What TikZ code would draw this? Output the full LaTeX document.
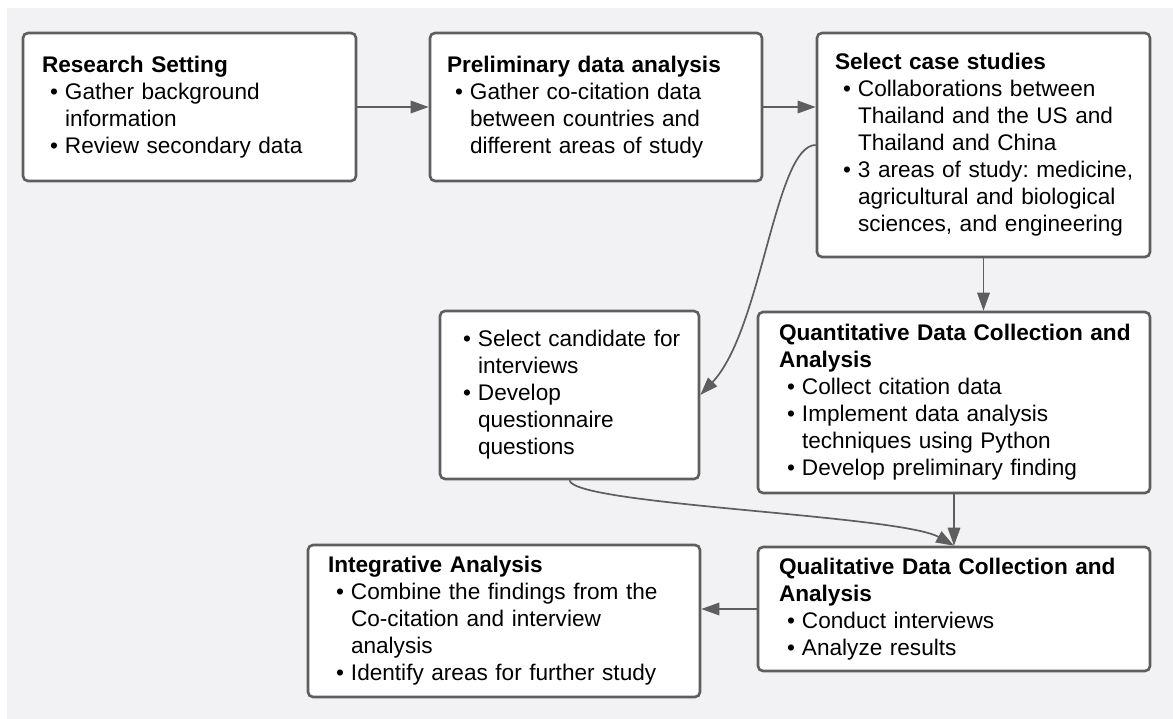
\documentclass[tikz,border=0pt]{standalone}
\usepackage{fontspec}
\setmainfont{Liberation Sans}
\usetikzlibrary{arrows.meta}
\definecolor{bgc}{HTML}{F2F2F4}
\definecolor{lnc}{HTML}{5E5E5E}
\frenchspacing
\newcommand{\mytitle}[1]{\mbox{\bfseries #1}}
\newcommand{\myitem}[1]{\makebox[23pt][l]{\hspace{8pt}•}\mbox{#1}}
\newcommand{\mycont}[1]{\hspace*{23pt}\mbox{#1}}
\tikzset{
  box/.style={draw=lnc, line width=2.6pt, rounded corners=5pt, fill=white,
    align=left, inner ysep=0pt, text=black,
    font=\fontsize{22.6pt}{27pt}\selectfont\frenchspacing},
  conn/.style={draw=lnc, line width=1.7pt, -{Triangle[length=18pt,width=12.5pt]}}
}
\begin{document}
\begin{tikzpicture}[x=1pt,y=-1pt]
\useasboundingbox (0,0) rectangle (1173,719);
\fill[white] (0,0) rectangle (1173,719);
\fill[bgc] (7,8) rectangle (1173,719);

\node[box, minimum width=333pt, minimum height=148pt, inner xsep=19pt, text width=295pt] (b1) at (189.5,107)
 {\mytitle{Research Setting}\\
  \myitem{Gather background}\\
  \mycont{information}\\
  \myitem{Review secondary data}};

\node[box, minimum width=332pt, minimum height=148pt, inner xsep=17pt, text width=298pt] (b2) at (596,107)
 {\mytitle{Preliminary data analysis}\\
  \myitem{Gather co-citation data}\\
  \mycont{between countries and}\\
  \mycont{different areas of study}};

\node[box, minimum width=333pt, minimum height=224pt, inner xsep=18pt, text width=297pt] (b3) at (983.5,145)
 {\mytitle{Select case studies}\\
  \myitem{Collaborations between}\\
  \mycont{Thailand and the US and}\\
  \mycont{Thailand and China}\\
  \myitem{3 areas of study: medicine,}\\
  \mycont{agricultural and biological}\\
  \mycont{sciences, and engineering}};

\node[box, minimum width=259pt, minimum height=168pt, inner xsep=15pt, text width=229pt] (b4) at (569.5,395)
 {\myitem{Select candidate for}\\
  \mycont{interviews}\\
  \myitem{Develop}\\
  \mycont{questionnaire}\\
  \mycont{questions}};

\node[box, minimum width=392pt, minimum height=181pt, inner xsep=21pt, text width=350pt] (b5) at (954,402.5)
 {\mytitle{Quantitative Data Collection and}\\
  \mytitle{Analysis}\\
  \myitem{Collect citation data}\\
  \myitem{Implement data analysis}\\
  \mycont{techniques using Python}\\
  \myitem{Develop preliminary finding}};

\node[box, minimum width=392pt, minimum height=124pt, inner xsep=21pt, text width=350pt] (b6) at (954,609)
 {\mytitle{Qualitative Data Collection and}\\
  \mytitle{Analysis}\\
  \myitem{Conduct interviews}\\
  \myitem{Analyze results}};

\node[box, minimum width=392pt, minimum height=152pt, inner xsep=20pt, text width=352pt] (b7) at (504,621)
 {\mytitle{Integrative Analysis}\\
  \myitem{Combine the findings from the}\\
  \mycont{Co-citation and interview}\\
  \mycont{analysis}\\
  \myitem{Identify areas for further study}};

\draw[conn] (b1.east) -- (b2.west);
\draw[conn] (b2.east) -- (b2.east -| b3.west);
\draw[conn] (b3.south) -- (b3.south |- b5.north);
\draw[conn] (b5.south) -- (b6.north);
\draw[conn] (b6.west) -- (b6.west -| b7.east);
\draw[conn] (b3.west) .. controls (775,145) and (762,330) .. (b4.east);
\draw[conn] (b4.south) .. controls (574,505) and (900,515) .. (b6.north);
\end{tikzpicture}
\end{document}
